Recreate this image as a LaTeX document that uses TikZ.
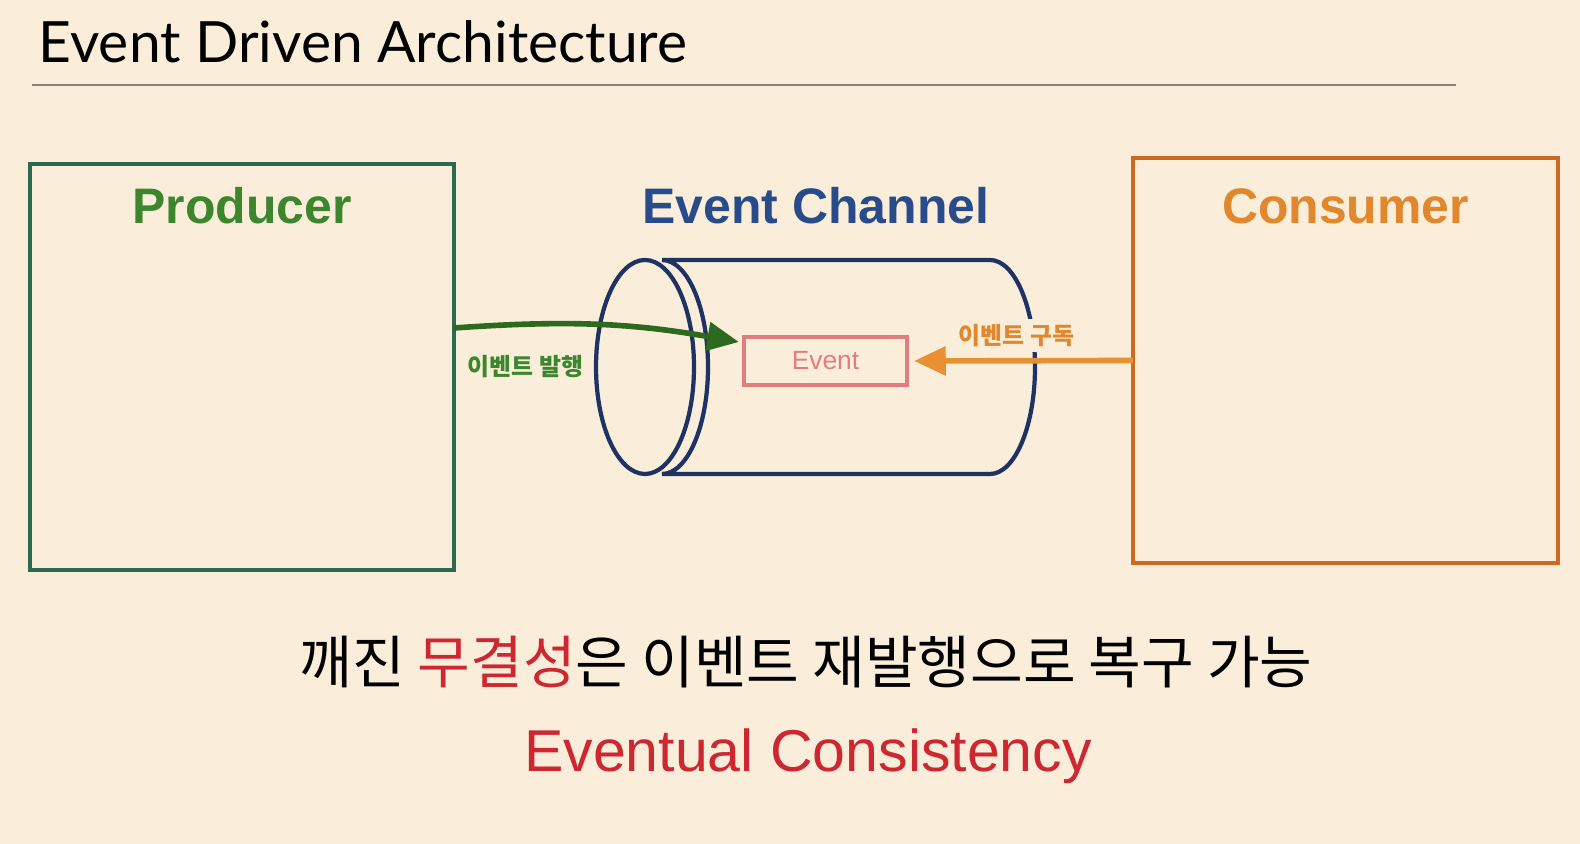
\documentclass[tikz,border=0pt]{standalone}
\usepackage{fontspec}
\setmainfont{Liberation Sans}
\newfontfamily\titlefont{Lato}
\newfontfamily\kr{Noto Sans CJK KR}
\usetikzlibrary{arrows.meta}
\definecolor{bg}{HTML}{FAEEDA}
\definecolor{rule}{HTML}{8C8273}
\definecolor{prodline}{HTML}{2D6950}
\definecolor{prodgreen}{HTML}{3C872D}
\definecolor{chanblue}{HTML}{284B8C}
\definecolor{navy}{HTML}{1E3264}
\definecolor{consline}{HTML}{CD6923}
\definecolor{consorange}{HTML}{E1872D}
\definecolor{evpink}{HTML}{E17D7D}
\definecolor{arrgreen}{HTML}{2D691E}
\definecolor{arrorange}{HTML}{E89132}
\definecolor{alert}{HTML}{CD2832}
\begin{document}
\begin{tikzpicture}
	\tikzstyle{every node}+=[inner sep=0pt]
	\tikzstyle{box}=[draw, line width=1.2pt, minimum width=4.24cm, minimum height=4.06cm, outer sep=0pt]
	\tikzstyle{head}=[font=\bfseries\fontsize{14.2}{16}\selectfont]
	\tikzstyle{tag}=[font=\kr\bfseries\fontsize{6.8}{8}\selectfont, fill=bg, inner sep=1.5pt]
	\tikzstyle{push}=[line width=1.6pt, -{Triangle[length=9pt,width=8pt]}]
	\fill [bg] (0,0) rectangle (15.8,8.44);
	\node [anchor=base west, font=\titlefont\fontsize{16.2}{18}\selectfont] (title) at (0.38,7.81) {Event Driven Architecture};
	\draw [rule, line width=0.5pt] (0.32,7.59) -- (14.56,7.59);
	\node [box, draw=prodline] (producer) at (2.42,4.77) {};
	\node [head, prodgreen] (prodlabel) at ([yshift=-4.2mm]producer.north) {Producer};
	\node [box, draw=consline, minimum width=4.25cm, minimum height=4.05cm] (consumer) at (13.455,4.835) {};
	\node [head, consorange] (conslabel) at ([yshift=-4.8mm]consumer.north) {Consumer};
	\node [head, chanblue] (chanlabel) at (8.16,6.38) {Event Channel};
	\draw [navy, line width=1.2pt] (6.45,4.77) ellipse (0.49 and 1.07);
	\draw [navy, line width=1.2pt] (6.62,5.84) -- (9.90,5.84) arc (90:-90:0.45 and 1.07) -- (6.62,3.70) arc (-90:90:0.46 and 1.07);
	\node [draw=evpink, line width=1.2pt, minimum width=1.63cm, minimum height=0.48cm, text=evpink, font=\fontsize{7.5}{9}\selectfont] (event) at (8.255,4.83) {Event};
	\draw [push, arrgreen] ([yshift=3.9mm]producer.east) to[out=4,in=170] ([xshift=-0.3mm,yshift=1.9mm]event.west);
	\node [tag, text=prodgreen, anchor=west] (pub) at ([xshift=0.8mm]producer.east) {이벤트 발행};
	\draw [push, arrorange, shorten >=0.5mm] (consumer.west) -- (event.east) node [tag, text=consorange, pos=0.52, above=0.6mm] (sub) {이벤트 구독};
	\node [anchor=base, font=\kr\fontsize{16.3}{19}\selectfont] (msg) at (8.06,1.60) {깨진 \textcolor{alert}{무결성}은 이벤트 재발행으로 복구 가능};
	\node [anchor=base, alert, font=\fontsize{16.8}{20}\selectfont] (ec) at (8.08,0.72) {Eventual Consistency};
\end{tikzpicture}
\end{document}
